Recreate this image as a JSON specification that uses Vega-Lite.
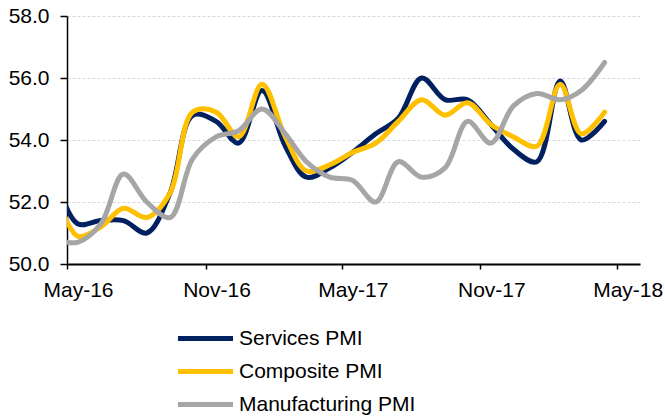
{
  "$schema": "https://vega.github.io/schema/vega-lite/v6.json",
  "width": 573,
  "height": 248,
  "autosize": "none",
  "padding": {"left": 67, "top": 16, "right": 25, "bottom": 155},
  "config": {
    "view": {"stroke": null},
    "font": "Liberation Sans"
  },
  "datasets": {
    "pmi": [
      {"date": "2016-04-15", "series": "Services PMI", "value": 52.8},
      {"date": "2016-05-15", "series": "Services PMI", "value": 51.3},
      {"date": "2016-06-15", "series": "Services PMI", "value": 51.4},
      {"date": "2016-07-15", "series": "Services PMI", "value": 51.4},
      {"date": "2016-08-15", "series": "Services PMI", "value": 51.0},
      {"date": "2016-09-15", "series": "Services PMI", "value": 52.3},
      {"date": "2016-10-15", "series": "Services PMI", "value": 54.8},
      {"date": "2016-11-15", "series": "Services PMI", "value": 54.6},
      {"date": "2016-12-15", "series": "Services PMI", "value": 53.9},
      {"date": "2017-01-15", "series": "Services PMI", "value": 55.6},
      {"date": "2017-02-15", "series": "Services PMI", "value": 53.8},
      {"date": "2017-03-15", "series": "Services PMI", "value": 52.8},
      {"date": "2017-04-15", "series": "Services PMI", "value": 53.1},
      {"date": "2017-05-15", "series": "Services PMI", "value": 53.6},
      {"date": "2017-06-15", "series": "Services PMI", "value": 54.2},
      {"date": "2017-07-15", "series": "Services PMI", "value": 54.7},
      {"date": "2017-08-15", "series": "Services PMI", "value": 56.0},
      {"date": "2017-09-15", "series": "Services PMI", "value": 55.3},
      {"date": "2017-10-15", "series": "Services PMI", "value": 55.3},
      {"date": "2017-11-15", "series": "Services PMI", "value": 54.5},
      {"date": "2017-12-15", "series": "Services PMI", "value": 53.7},
      {"date": "2018-01-15", "series": "Services PMI", "value": 53.3},
      {"date": "2018-02-15", "series": "Services PMI", "value": 55.9},
      {"date": "2018-03-15", "series": "Services PMI", "value": 54.0},
      {"date": "2018-04-15", "series": "Services PMI", "value": 54.6},
      {"date": "2016-04-15", "series": "Composite PMI", "value": 52.4},
      {"date": "2016-05-15", "series": "Composite PMI", "value": 50.9},
      {"date": "2016-06-15", "series": "Composite PMI", "value": 51.2},
      {"date": "2016-07-15", "series": "Composite PMI", "value": 51.8},
      {"date": "2016-08-15", "series": "Composite PMI", "value": 51.5},
      {"date": "2016-09-15", "series": "Composite PMI", "value": 52.3},
      {"date": "2016-10-15", "series": "Composite PMI", "value": 54.9},
      {"date": "2016-11-15", "series": "Composite PMI", "value": 54.9},
      {"date": "2016-12-15", "series": "Composite PMI", "value": 54.1},
      {"date": "2017-01-15", "series": "Composite PMI", "value": 55.8},
      {"date": "2017-02-15", "series": "Composite PMI", "value": 54.1},
      {"date": "2017-03-15", "series": "Composite PMI", "value": 53.0},
      {"date": "2017-04-15", "series": "Composite PMI", "value": 53.2},
      {"date": "2017-05-15", "series": "Composite PMI", "value": 53.6},
      {"date": "2017-06-15", "series": "Composite PMI", "value": 53.9},
      {"date": "2017-07-15", "series": "Composite PMI", "value": 54.6},
      {"date": "2017-08-15", "series": "Composite PMI", "value": 55.3},
      {"date": "2017-09-15", "series": "Composite PMI", "value": 54.8},
      {"date": "2017-10-15", "series": "Composite PMI", "value": 55.2},
      {"date": "2017-11-15", "series": "Composite PMI", "value": 54.5},
      {"date": "2017-12-15", "series": "Composite PMI", "value": 54.1},
      {"date": "2018-01-15", "series": "Composite PMI", "value": 53.8},
      {"date": "2018-02-15", "series": "Composite PMI", "value": 55.8},
      {"date": "2018-03-15", "series": "Composite PMI", "value": 54.2},
      {"date": "2018-04-15", "series": "Composite PMI", "value": 54.9},
      {"date": "2016-04-15", "series": "Manufacturing PMI", "value": 50.8},
      {"date": "2016-05-15", "series": "Manufacturing PMI", "value": 50.7},
      {"date": "2016-06-15", "series": "Manufacturing PMI", "value": 51.3},
      {"date": "2016-07-15", "series": "Manufacturing PMI", "value": 52.9},
      {"date": "2016-08-15", "series": "Manufacturing PMI", "value": 52.0},
      {"date": "2016-09-15", "series": "Manufacturing PMI", "value": 51.5},
      {"date": "2016-10-15", "series": "Manufacturing PMI", "value": 53.4},
      {"date": "2016-11-15", "series": "Manufacturing PMI", "value": 54.1},
      {"date": "2016-12-15", "series": "Manufacturing PMI", "value": 54.3},
      {"date": "2017-01-15", "series": "Manufacturing PMI", "value": 55.0},
      {"date": "2017-02-15", "series": "Manufacturing PMI", "value": 54.2},
      {"date": "2017-03-15", "series": "Manufacturing PMI", "value": 53.3},
      {"date": "2017-04-15", "series": "Manufacturing PMI", "value": 52.8},
      {"date": "2017-05-15", "series": "Manufacturing PMI", "value": 52.7},
      {"date": "2017-06-15", "series": "Manufacturing PMI", "value": 52.0},
      {"date": "2017-07-15", "series": "Manufacturing PMI", "value": 53.3},
      {"date": "2017-08-15", "series": "Manufacturing PMI", "value": 52.8},
      {"date": "2017-09-15", "series": "Manufacturing PMI", "value": 53.1},
      {"date": "2017-10-15", "series": "Manufacturing PMI", "value": 54.6},
      {"date": "2017-11-15", "series": "Manufacturing PMI", "value": 53.9},
      {"date": "2017-12-15", "series": "Manufacturing PMI", "value": 55.1},
      {"date": "2018-01-15", "series": "Manufacturing PMI", "value": 55.5},
      {"date": "2018-02-15", "series": "Manufacturing PMI", "value": 55.3},
      {"date": "2018-03-15", "series": "Manufacturing PMI", "value": 55.6},
      {"date": "2018-04-15", "series": "Manufacturing PMI", "value": 56.5}
    ]
  },
  "data": {"name": "pmi"},
  "mark": {"type": "line", "interpolate": "catmull-rom", "strokeWidth": 5, "clip": true, "strokeCap": "round"},
  "encoding": {
    "x": {
      "field": "date",
      "type": "temporal",
      "scale": {
        "type": "utc",
        "domain": [
          {"year": 2016, "month": 5, "date": 1, "utc": true},
          {"year": 2018, "month": 6, "date": 1, "utc": true}
        ]
      },
      "axis": {
        "title": null,
        "values": [
          {"year": 2016, "month": 5, "date": 1, "utc": true},
          {"year": 2016, "month": 11, "date": 1, "utc": true},
          {"year": 2017, "month": 5, "date": 1, "utc": true},
          {"year": 2017, "month": 11, "date": 1, "utc": true},
          {"year": 2018, "month": 5, "date": 1, "utc": true}
        ],
        "labelExpr": "utcFormat(datum.value, '%b-%y')",
        "grid": false,
        "domainColor": "#000000",
        "domainWidth": 2,
        "tickColor": "#000000",
        "tickWidth": 1.5,
        "tickSize": 5,
        "labelOffset": 11,
        "labelPadding": 10,
        "labelFontSize": 21,
        "labelColor": "#000000",
        "labelFont": "Liberation Sans",
        "labelOverlap": false,
        "labelFlush": false
      }
    },
    "y": {
      "field": "value",
      "type": "quantitative",
      "scale": {"domain": [50, 58], "nice": false, "zero": false},
      "axis": {
        "title": null,
        "values": [50, 52, 54, 56, 58],
        "format": ".1f",
        "grid": true,
        "gridColor": "#d9d9d9",
        "gridDash": [3, 2],
        "gridWidth": 1,
        "domainColor": "#000000",
        "domainWidth": 1.5,
        "tickColor": "#000000",
        "tickWidth": 1.5,
        "tickSize": 7,
        "labelPadding": 11,
        "labelFontSize": 21,
        "labelColor": "#000000",
        "labelFont": "Liberation Sans"
      }
    },
    "color": {
      "field": "series",
      "type": "nominal",
      "sort": ["Services PMI", "Composite PMI", "Manufacturing PMI"],
      "scale": {
        "domain": ["Services PMI", "Composite PMI", "Manufacturing PMI"],
        "range": ["#002060", "#FFC000", "#A6A6A6"]
      },
      "legend": {
        "title": null,
        "orient": "none",
        "legendX": 125,
        "legendY": 309,
        "direction": "vertical",
        "symbolType": "M-2.5,0H2.5",
        "symbolSize": 484,
        "symbolStrokeWidth": 5,
        "symbolStrokeCap": "round",
        "labelFontSize": 21,
        "labelColor": "#000000",
        "labelFont": "Liberation Sans",
        "labelOffset": 20,
        "rowPadding": 9,
        "labelLimit": 400
      }
    }
  }
}
